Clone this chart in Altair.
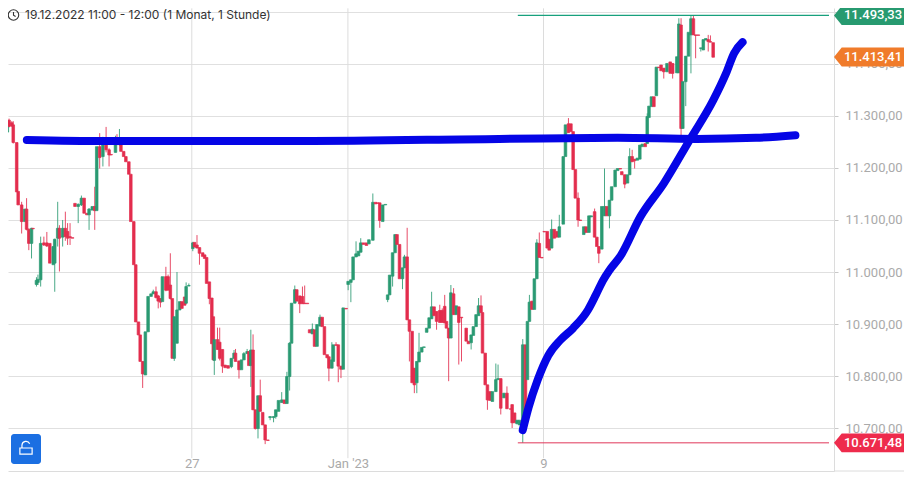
import altair as alt
import pandas as pd

# candle slots (hourly bars along the time axis), open and close prices
slots = [0.9,1.6,2.7,3.3,4.7,5.3,6.7,8,8.7,9.6,
 10.7,11.3,12.7,13.3,14.4,15.7,16.9,18.1,19.5,20.1,
 21.3,22,23.3,24.4,25.3,26.3,27.3,28.3,29.6,30.9,
 32,33.1,34,35.3,36.3,37.1,38.3,39.6,40.9,42.1,
 42.9,44.7,45.3,46.3,46.9,48,48.9,50.1,50.9,52.1,
 52.9,54,54.7,55.7,56.8,57.9,59.1,60,61.1,62,
 62.9,63.7,65.1,66,66.9,67.7,68.5,69.6,70.7,71.6,
 72.7,73.3,74.4,76,76.7,77.7,78.7,80,80.8,81.6,
 82.7,83.7,84.3,84.7,86,86.9,88,89.1,90.3,91.6,
 92.7,93.3,94.7,95.7,96.7,98,98.7,99.5,100.4,101.3,
 102.4,103.3,104.3,105.3,106.4,107.3,108.7,109.6,110.7,112,
 113.1,114.1,115.2,116,117.3,118.1,119.3,120.4,121.3,122.4,
 123.3,124.4,125.3,126.3,127.5,128.4,129.3,130.4,131.1,132.3,
 132.9,134,134.9,136,136.9,138.1,138.9,140,140.9,142.1,
 143.1,144,145.1,146.3,147.3,148.9,150,150.9,151.7,152.9,
 154,154.9,155.7,156.9,157.9,158.7,159.7,160.9,161.7,162.8,
 163.7,164.8,165.7,166.7,167.6,168.7,169.6,170.7,171.7,172.7,
 173.7,174.7,176,177,178,178.7,179.6,180.5,181.6,182.7,
 183.7,184.8,186.7,187.6,188.7,189.6,190.7,191.7,192.7,193.3,
 194.4,195.3,196.3,197.3,198.7,199.6,200.7,202,203.2,204.7,
 205.3,206.3,207.3,208.3,209.6,210.7,211.5,212.3,213.3,214.3,
 215.3,216.3,217.3,218.3,219.5,220.3,221.3,222.4,223.5,224.4,
 226,226.9,228.1,229.1,230,230.9,232,232.9,234.3,235.3,
 236.4,237.3,238.7,239.6,240.4,241.6,242.7,243.7,244.7,245.6,
 247,248,249.1,249.7,250.9,252,252.9,253.9,254.9,256,
 257,258,259.2,260,260.7,261.7,262.7,263.7,264.7,265.6,
 266.7,268,269.3,270.3,272,272.8,273.7,274.4,275.6,276.7,
 277.7,278.7,279.6,280.7,281.7,282.7,283.7,284.7,285.6,286.7]

opens = [11269,11292,11287,11283,11249,11155,11129,11097,11121,11082,
 11055,11084,10976,10980,10985,11056,11056,11055,11014,11017,
 11065,11084,11067,11084,11078,11068,11066,11132,11126,11129,
 11142,11113,11110,11119,11126,11118,11241,11222,11244,11235,
 11226,11230,11250,11245,11245,11232,11222,11212,11188,11097,
 11014,10904,10879,10828,10802,10885,10953,10958,10962,10954,
 10949,10943,10991,10991,10975,10949,10834,10863,10927,10943,
 10952,10940,10973,11045,11057,11052,11047,11037,11033,11028,
 10981,10950,10914,10830,10870,10865,10851,10821,10820,10818,
 10834,10844,10829,10812,10831,10843,10847,10820,10850,10735,
 10699,10762,10730,10706,10677,10720,10720,10722,10732,10749,
 10754,10747,10799,10863,10940,10966,10954,10953,10940,10940,
 10889,10881,10889,10857,10896,10913,10895,10841,10837,10815,
 10828,10860,10860,10819,10813,10930,10976,10980,10985,11029,
 11031,11038,11056,11056,11054,11061,11134,11133,11133,11097,
 11129,10947,10956,10992,11037,11072,11053,10987,11008,11029,
 10908,10886,10815,10787,10827,10846,10855,10884,10892,10910,
 10933,10924,10926,10926,10934,10905,10892,10873,10958,10918,
 10933,10913,10892,10867,10864,10878,10895,10916,10935,10922,
 10844,10783,10770,10751,10770,10793,10795,10758,10767,10737,
 10745,10729,10708,10706,10710,10860,10793,10905,10944,10928,
 10987,11055,11028,11078,11078,11063,11046,11082,11078,11067,
 11092,11222,11285,11285,11270,11197,11142,11100,11072,11087,
 11076,11106,11116,11067,11049,11044,11108,11126,11108,11138,
 11164,11195,11199,11193,11187,11171,11187,11222,11217,11215,
 11217,11241,11247,11247,11297,11318,11337,11339,11394,11398,
 11392,11385,11404,11401,11383,11383,11475,11276,11366,11415,
 11456,11487,11456,11456,11430,11427,11446,11447,11443,11441]

closes = [11291,11280,11281,11249,11154,11129,11097,11121,11082,11055,
 11084,11083,10984,10986,11055,11052,11050,11017,11049,11063,
 11084,11065,11084,11068,11065,11066,11065,11126,11130,11142,
 11113,11110,11121,11126,11118,11241,11220,11244,11235,11225,
 11225,11250,11245,11253,11232,11222,11212,11188,11097,11014,
 10904,10879,10828,10804,10885,10953,10958,10962,10951,10944,
 10942,10991,10965,10965,10949,10834,10914,10927,10943,10930,
 10936,10972,10974,11056,11048,11046,11036,11030,11026,10978,
 10949,10862,10831,10870,10851,10834,10819,10816,10815,10834,
 10844,10828,10812,10831,10843,10847,10820,10850,10735,10699,
 10762,10732,10706,10677,10676,10722,10722,10735,10753,10754,
 10747,10799,10863,10940,10966,10944,10939,10939,10939,10939,
 10883,10890,10857,10899,10913,10895,10841,10835,10815,10831,
 10860,10859,10819,10813,10931,10929,10982,10985,11029,11035,
 11040,11056,11053,11051,11062,11134,11131,11132,11099,11129,
 11130,10956,10994,11037,11072,11053,10987,11008,11029,10908,
 10886,10787,10783,10828,10846,10855,10856,10892,10912,10933,
 10916,10905,10903,10903,10902,10892,10873,10960,10918,10935,
 10903,10912,10867,10862,10879,10895,10918,10935,10922,10844,
 10783,10754,10753,10770,10793,10795,10738,10767,10737,10736,
 10710,10710,10715,10715,10860,10729,10905,10942,10928,10987,
 11056,11028,11027,11077,11046,11042,11082,11065,11067,11087,
 11222,11283,11268,11270,11197,11142,11100,11099,11087,11076,
 11108,11108,11067,11049,11036,11126,11126,11108,11138,11164,
 11196,11199,11198,11187,11169,11187,11222,11212,11214,11219,
 11244,11246,11241,11299,11319,11337,11318,11394,11393,11387,
 11385,11401,11382,11382,11414,11477,11276,11366,11415,11461,
 11487,11456,11455,11455,11431,11447,11449,11443,11442,11413]

# wicks: slot of the candle, session high and low
wick_slots = [0.9,1.6,2.7,3.3,6.7,8.7,9.6,10.7,12.7,13.3,14.4,15.7,16.9,20.1,21.3,22,23.3,24.4,25.3,26.3,
 29.6,30.9,34,36.3,38.3,39.6,40.9,42.1,44.7,45.3,46.3,55.7,60,61.1,62,62.9,65.1,66,66.9,68.5,
 69.6,73.3,74.4,76,77.7,78.7,82.7,84.7,86,86.9,88,91.6,92.7,93.3,94.7,96.7,98,99.5,100.4,101.3,
 102.4,103.3,105.3,107.3,108.7,109.6,112,114.1,115.2,117.3,119.3,120.4,121.3,124.4,127.5,131.1,132.3,134,134.9,136,
 138.9,140,142.1,144,148.9,151.7,154.9,156.9,160.9,161.7,162.8,163.7,165.7,166.7,167.6,172.7,174.7,176,177,178,
 179.6,180.5,181.6,183.7,184.8,188.7,191.7,192.7,195.3,198.7,199.6,200.7,203.2,205.3,209.6,212.3,215.3,216.3,221.3,224.4,
 228.1,232,238.7,240.4,242.7,244.7,250.9,252.9,253.9,254.9,260,266.7,270.3,272.8,273.7,275.6,277.7,278.7,279.6,281.7,
 284.7,285.6]
wick_highs = [11302,11295,11290,11290,11135,11142,11084,11085,10990,10995,11068,11068,11077,11064,11135,11090,11100,11116,11094,11094,
 11132,11147,11123,11164,11267,11260,11279,11238,11262,11265,11275,10828,10966,10972,10956,10949,11010,10995,11036,10914,
 11000,10980,10978,11058,11071,11047,10981,10870,10893,10893,10851,10834,10850,10852,10829,10846,10852,10889,10880,10735,
 10762,10793,10706,10722,10722,10735,10769,10808,10865,10974,10954,10972,10974,10901,10918,10837,10865,10865,10860,10819,
 10982,10985,11059,11065,11151,11133,10956,11037,11008,11033,11085,10908,10815,10828,10883,10962,10924,10937,10930,10956,
 10892,10975,10969,10933,10913,10879,10950,10955,10783,10824,10822,10795,10780,10745,10871,10956,11063,11076,11101,11110,
 11296,11153,11122,11049,11199,11138,11187,11238,11235,11217,11305,11392,11401,11488,11488,11415,11493.33,11493.33,11456,11431,
 11456,11455]
wick_lows = [11267,11278,11279,11247,11074,11080,11042,11026,10972,10975,10972,11050,11048,10962,11049,11001,11049,11060,11052,11052,
 11094,11127,11081,11081,11199,11203,11230,11203,11230,11245,11243,10777,10958,10949,10930,10932,10963,10965,10947,10829,
 10863,10938,10973,11040,11046,11014,10938,10802,10851,10830,10806,10815,10834,10828,10795,10831,10843,10779,10735,10697,
 10680,10732,10669,10715,10711,10718,10749,10747,10772,10940,10921,10939,10939,10881,10896,10790,10815,10859,10788,10796,
 10965,10942,11029,11038,11061,11085,10942,10972,10967,11008,10908,10828,10767,10767,10827,10910,10889,10903,10903,10902,
 10790,10873,10918,10822,10828,10851,10916,10922,10735,10770,10793,10726,10737,10700,10671.48,10905,10987,11028,11046,11067,
 11268,11087,11067,11017,11108,11084,11161,11187,11212,11199,11247,11372,11372,11383,11250,11319,11382,11456,11411,11424,
 11424,11442]

# hand-drawn blue annotations: slot and price
flat_slots = [8.8,40,120,200,248,280,304,320]
flat_prices = [11254,11252,11252,11256,11258,11256,11258,11263]
rise_slots = [209.6,212,215.6,220,224.8,230,236,239.2,242,244.8,249.2,257.2,266.8,277.2,286.8,292,295.2,298.6]
rise_prices = [10696,10740,10792,10840,10869,10892,10927,10956,10983,11004,11031,11106,11171,11254,11331,11383,11421,11442]

y_ticks = [10700,10800,10900,11000,11100,11200,11300,11400,11500]
date_slots = [75.6,138.8,218]
date_labels = ["27","Jan '23","9"]
high_price = 11493.33
low_price = 10671.48
last_price = 11413.41
level_from = 207.6
badge_texts = ["11.493,33","11.413,41","10.671,48"]
badge_prices = [high_price,last_price,low_price]
badge_colors = ["#279a70","#f07b2a","#ee2b4c"]
header = "19.12.2022 11:00 - 12:00  (1 Monat, 1 Stunde)"

GREEN = "#2a9a72"
RED = "#e32d4d"
FONT = "Roboto"

xs = alt.Scale(domain=[3.2,333.6],nice=False,zero=False)
ys = alt.Scale(domain=[10617.31,11507.69],nice=False,zero=False)

date_expr = "datum.value<100?'%s':datum.value<200?\"%s\":'%s'" % tuple(date_labels)
expr = "datum.value>=11500?'':replace(replace(replace(format(datum.value,',.2f'),',','#'),'.',','),'#','.')"
AX = alt.Axis(values=date_slots,labelExpr=date_expr,orient="bottom",grid=False,
        domain=True,domainColor="#dcdcdc",ticks=True,tickColor="#c8c8c8",tickSize=4,labelPadding=-18,
        labelColor="#aaaaaa",labelFont=FONT,labelFontSize=13,labelFlush=False,title=None)
AY = alt.Axis(values=y_ticks,labelExpr=expr,orient="right",grid=True,gridColor="#e0e0e0",
        domain=True,domainColor="#dcdcdc",tickColor="#c8c8c8",tickSize=4,labelPadding=7,labelColor="#aaaaaa",
        labelFont=FONT,labelFontSize=13,labelLimit=90,title=None)
X = alt.X("slot:Q",scale=xs,axis=AX)
Y = alt.Y("p:Q",scale=ys,axis=AY)

direction = {s:("up" if c>=o else "down") for s,o,c in zip(slots,opens,closes)}
body = pd.DataFrame({"slot":slots,"p":opens,"p2":closes,
                     "d":["up" if c>=o else "down" for o,c in zip(opens,closes)]})
wick = pd.DataFrame({"slot":wick_slots,"p":wick_highs,"p2":wick_lows,
                     "d":[direction.get(s,"up") for s in wick_slots]})
colour = alt.Color("d:N",scale=alt.Scale(domain=["up","down"],range=[GREEN,RED]),legend=None)

grid_v = alt.Chart(pd.DataFrame({"slot":date_slots,"p":[10642]*3,"p2":[11507]*3})).mark_rule(color="#dcdcdc",strokeWidth=1).encode(x=X,y=Y,y2="p2:Q")

wicks = alt.Chart(wick).mark_rule(strokeWidth=1,opacity=0.85).encode(x=X,y=Y,y2="p2:Q",color=colour)
bodies = alt.Chart(body).mark_bar(size=2.6,strokeWidth=0.7).encode(x=X,y=Y,y2="p2:Q",color=colour,
                                                                    stroke=alt.Stroke("d:N",scale=alt.Scale(domain=["up","down"],range=[GREEN,RED]),legend=None))

hi = alt.Chart(pd.DataFrame({"slot":[level_from],"s2":[333.6],"p":[high_price]})).mark_rule(color="#17a07c",strokeWidth=1.2).encode(x=X,x2="s2:Q",y=Y)
lo = alt.Chart(pd.DataFrame({"slot":[level_from],"s2":[333.6],"p":[low_price]})).mark_rule(color="#e0375a",strokeWidth=1).encode(x=X,x2="s2:Q",y=Y)

flat = alt.Chart(pd.DataFrame({"slot":flat_slots,"p":flat_prices})).mark_line(color="#0505e6",strokeWidth=8,strokeCap="round",interpolate="monotone").encode(x=X,y=Y)
rise = alt.Chart(pd.DataFrame({"slot":rise_slots,"p":rise_prices})).mark_line(color="#0505e6",strokeWidth=8,strokeCap="round",interpolate="monotone").encode(x=X,y=Y)

badge_df = pd.DataFrame({"t":badge_texts,"p":badge_prices,"c":badge_colors})
badge_shape = "M-1,0 L-0.78,-0.27 L1,-0.27 L1,0.27 L-0.78,0.27 Z"
badges = alt.Chart(badge_df).mark_point(shape=badge_shape,size=4900,filled=True,opacity=1,strokeWidth=0).encode(
    x=alt.value(861),y=Y,color=alt.Color("c:N",scale=None))
badge_txt = alt.Chart(badge_df).mark_text(color="white",font=FONT,fontSize=13,fontWeight=500,align="center",baseline="middle").encode(
    x=alt.value(865),y=Y,text="t:N")

base_line = alt.Chart(pd.DataFrame({"a":[0]})).mark_rule(color="#dcdcdc",strokeWidth=1).encode(x=alt.value(826),x2=alt.value(896),y=alt.value(463))

head = alt.Chart(pd.DataFrame({"t":[header]})).mark_text(font="Inter",fontSize=12,color="#333333",align="left",baseline="middle").encode(
    x=alt.value(17),y=alt.value(7),text="t:N")
clock_shape = "M0,-1 A1,1 0 1,1 -0.002,-1 Z M0,-0.56 L0,0.04 L0.4,0.28"
clock = alt.Chart(pd.DataFrame({"a":[0]})).mark_point(shape=clock_shape,size=110,filled=False,color="#333333",strokeWidth=1.1,opacity=1).encode(
    x=alt.value(5.5),y=alt.value(7))

lock_btn = alt.Chart(pd.DataFrame({"a":[0]})).mark_rect(color="#1b6fe2",cornerRadius=3).encode(
    x=alt.value(3),x2=alt.value(33),y=alt.value(426),y2=alt.value(456))
lock_shape = "M-1,0 L1,0 L1,1 L-1,1 Z M-0.66,0 L-0.66,-0.5 A0.66,0.66 0 0,1 0.6,-0.7"
lock = alt.Chart(pd.DataFrame({"a":[0]})).mark_point(shape=lock_shape,size=150,filled=False,color="white",strokeWidth=1.2,opacity=1).encode(
    x=alt.value(18),y=alt.value(440))

chart = alt.layer(grid_v,wicks,bodies,hi,lo,flat,rise,base_line,badges,badge_txt,head,clock,lock_btn,lock).properties(
    width=826,height=463,padding={"left":0,"top":0,"right":70,"bottom":1},
    autosize=alt.AutoSizeParams(type="none"),background="white"
).configure_view(stroke=None)

chart.save("out.html",embed_options={"renderer":"svg","actions":False})
